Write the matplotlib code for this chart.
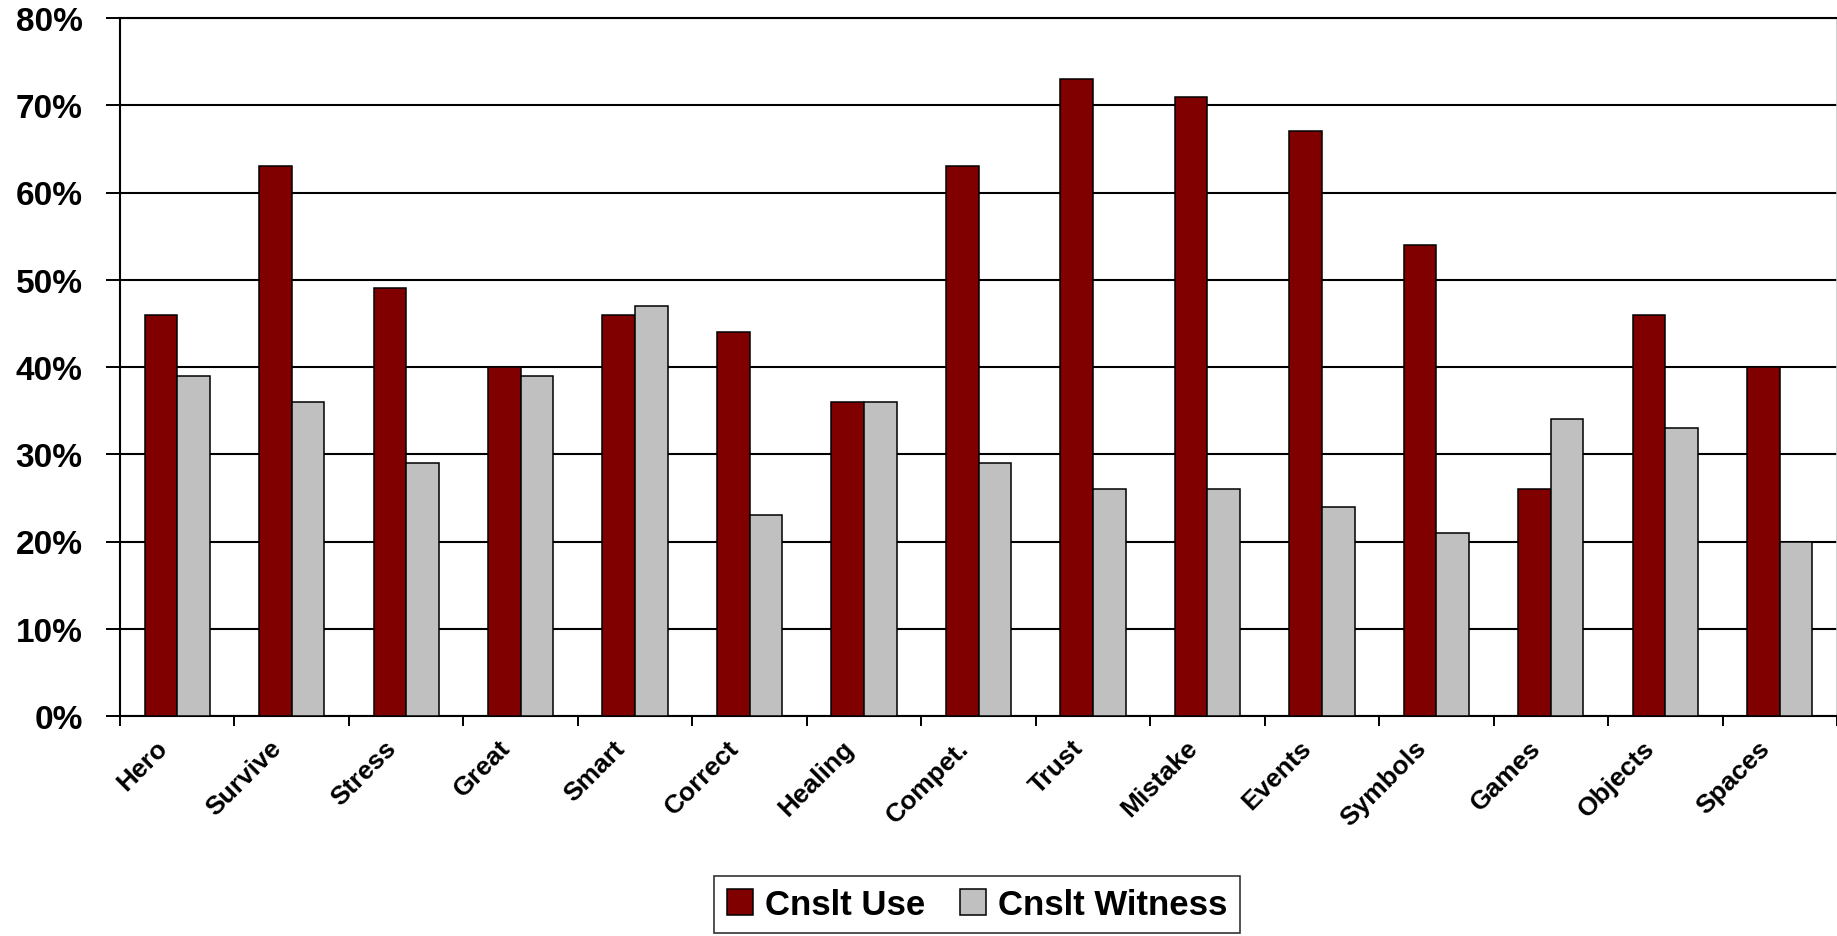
import matplotlib.pyplot as plt
import matplotlib.transforms as mtransforms
import numpy as np

categories = ["Hero", "Survive", "Stress", "Great", "Smart", "Correct", "Healing",
              "Compet.", "Trust", "Mistake", "Events", "Symbols", "Games",
              "Objects", "Spaces"]
cnslt_use = [46, 63, 49, 40, 46, 44, 36, 63, 73, 71, 67, 54, 26, 46, 40]
cnslt_witness = [39, 36, 29, 39, 47, 23, 36, 29, 26, 26, 24, 21, 34, 33, 20]
series_names = ["Cnslt Use", "Cnslt Witness"]
yticks = [0, 10, 20, 30, 40, 50, 60, 70, 80]

RED = "#800000"
GRAY = "#C0C0C0"

plt.rcParams["font.family"] = ["Liberation Sans", "DejaVu Sans"]
plt.rcParams["font.weight"] = "bold"

fig = plt.figure(figsize=(18.37, 9.37), dpi=100)
ax = fig.add_axes([120 / 1837, 1 - 717 / 937, 1 - 120 / 1837, (717 - 19) / 937])

x = np.arange(len(categories))
w = 0.285
ax.bar(x - w / 2, cnslt_use, width=w, color=RED, edgecolor="black",
       linewidth=1.1, label=series_names[0], zorder=3)
ax.bar(x + w / 2, cnslt_witness, width=w, color=GRAY, edgecolor="black",
       linewidth=1.1, label=series_names[1], zorder=3)

ax.set_xlim(-0.5, len(categories) - 0.5)
ax.set_ylim(0, 80)

# y axis
ax.set_yticks(yticks)
ax.set_yticklabels([f"{v}%" for v in yticks], fontsize=24, fontweight="bold")
ax.tick_params(axis="y", length=10, width=1.4, pad=17)
ax.grid(axis="y", color="black", linewidth=1.5, zorder=0)
ax.set_axisbelow(True)

# x axis: ticks at category boundaries, labels at centres
ax.set_xticks(np.arange(len(categories) + 1) - 0.5)
ax.set_xticklabels([])
ax.tick_params(axis="x", which="major", length=7, width=1.4, direction="out")
ax.set_xticks(x, categories, minor=True)
ax.tick_params(axis="x", which="minor", length=0, pad=20)
offset = mtransforms.ScaledTranslation(-14 / 100, 0, fig.dpi_scale_trans)
for lab in ax.get_xticklabels(minor=True):
    lab.set_rotation(45)
    lab.set_ha("right")
    lab.set_va("center")
    lab.set_rotation_mode("anchor")
    lab.set_fontsize(19)
    lab.set_fontweight("bold")
    lab.set_transform(lab.get_transform() + offset)

for s in ["left", "bottom", "top"]:
    ax.spines[s].set_color("black")
    ax.spines[s].set_linewidth(1.5)
ax.spines["right"].set_color("#c8c8c8")
ax.spines["right"].set_linewidth(1.2)

leg = fig.legend(loc="center", bbox_to_anchor=(977 / 1837, 1 - 905.5 / 937),
                 ncol=2, fontsize=25, frameon=True, fancybox=False,
                 edgecolor="black", handlelength=0.75, handleheight=0.75,
                 handletextpad=0.35, columnspacing=1.0, borderpad=0.35,
                 prop={"weight": "bold", "size": 25})
leg.get_frame().set_linewidth(1.2)

fig.savefig("out.png", dpi=100)
